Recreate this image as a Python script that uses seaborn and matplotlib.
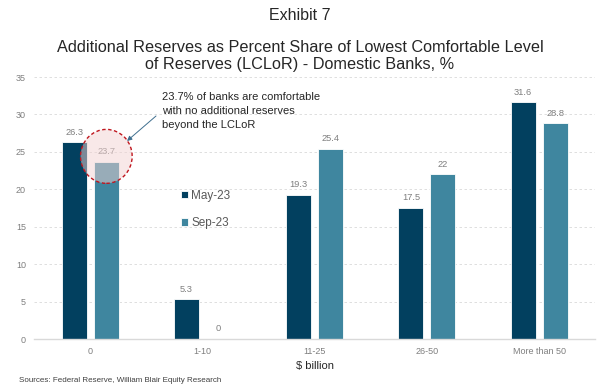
import matplotlib
matplotlib.use("Agg")
import matplotlib.pyplot as plt
from matplotlib.patches import Ellipse
import seaborn as sns
import pandas as pd

categories = ["0", "1-10", "11-25", "26-50", "More than 50"]
may_23 = [26.3, 5.3, 19.3, 17.5, 31.6]
sep_23 = [23.7, 0, 25.4, 22, 28.8]
series_names = ["May-23", "Sep-23"]
y_ticks = [0, 5, 10, 15, 20, 25, 30, 35]

df = pd.DataFrame({
    "bucket": categories * 2,
    "value": may_23 + sep_23,
    "period": [series_names[0]] * len(categories) + [series_names[1]] * len(categories),
})

sns.set_theme(style="white")
plt.rcParams["font.family"] = ["Liberation Sans", "DejaVu Sans"]

W, H = 600, 387
fig = plt.figure(figsize=(6.0, 3.87), dpi=100)
ax = fig.add_axes([0.057, 0.124, 0.935, 0.677])

palette = {"May-23": "#02405f", "Sep-23": "#3f869f"}
sns.barplot(data=df, x="bucket", y="value", hue="period", order=categories,
            hue_order=series_names, palette=palette, width=0.57, gap=0.22,
            edgecolor="white", linewidth=0.6, saturation=1, ax=ax, legend=True)

ax.set_xlim(-0.5, 4.5)
ax.set_ylim(0, 35)
ax.set_yticks(y_ticks)
ax.tick_params(axis="both", labelsize=6.5, labelcolor="#7f7f7f", length=0, pad=6)
ax.grid(axis="y", color="#d9d9d9", linestyle=(0, (3, 3)), linewidth=0.6)
ax.set_axisbelow(True)
for side in ["top", "right", "left"]:
    ax.spines[side].set_visible(False)
ax.spines["bottom"].set_color("#d9d9d9")
ax.spines["bottom"].set_linewidth(1.0)
ax.set_xlabel("$ billion", fontsize=8, color="#262626", labelpad=3)
ax.set_ylabel("")

for container in ax.containers:
    ax.bar_label(container, labels=[f"{v:g}" for v in container.datavalues],
                 padding=4, fontsize=6.7, color="#7f7f7f")

# Highlight the Sep-23 bar in the "0" bucket
ax.add_patch(Ellipse((0.143, 24.4), width=0.46, height=7.2,
                     facecolor="#f2d2d2", alpha=0.5, edgecolor="none", zorder=4))
ax.add_patch(Ellipse((0.143, 24.4), width=0.46, height=7.2,
                     facecolor="none", edgecolor="#c0161e", linestyle=(0, (2.5, 1.8)),
                     linewidth=1.0, zorder=5))

def px(x, y):
    """Figure-pixel position -> figure fraction."""
    return (x / W, 1 - y / H)

fig.text(*px(162, 111), "23.7% of banks are comfortable\nwith no additional reserves\nbeyond the LCLoR",
         fontsize=8, color="#262626", ha="left", va="center", linespacing=1.45)
ax.annotate("", xy=px(127, 141), xytext=px(156, 116),
            xycoords="figure fraction", textcoords="figure fraction",
            arrowprops=dict(arrowstyle="-|>", color="#3f6f8f", lw=0.7,
                            mutation_scale=7, shrinkA=0, shrinkB=0))

ax.legend(loc="upper left", bbox_to_anchor=(0.243, 0.61), frameon=False,
          fontsize=8.5, labelcolor="#595959", handlelength=0.6, handleheight=0.6,
          handletextpad=0.25, labelspacing=1.3)

fig.text(*px(300, 15), "Exhibit 7", ha="center", va="center", fontsize=11.5, color="#262626")
fig.text(*px(300, 47), "Additional Reserves as Percent Share of Lowest Comfortable Level",
         ha="center", va="center", fontsize=11.7, color="#262626")
fig.text(*px(300, 64), "of Reserves (LCLoR) - Domestic Banks, %",
         ha="center", va="center", fontsize=11.7, color="#262626")
fig.text(*px(19, 380), "Sources: Federal Reserve, William Blair Equity Research",
         ha="left", va="center", fontsize=5.8, color="#404040")

fig.savefig("out.png", dpi=100)
